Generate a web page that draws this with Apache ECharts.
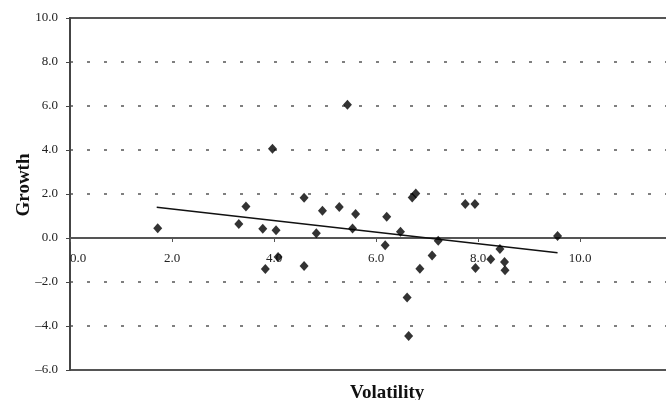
<!DOCTYPE html>
<html>
<head>
<meta charset="utf-8">
<script src="https://cdn.jsdelivr.net/npm/echarts@6/dist/echarts.min.js"></script>
<style>html,body{margin:0;padding:0;background:#fff}#c{width:666px;height:400px}</style>
</head>
<body>
<div id="c"></div>
<script>
// Data
const volatility = [1.72, 3.31, 3.45, 3.78, 3.83, 3.97, 4.04, 4.08, 4.59, 4.59, 4.83, 4.95, 5.28, 5.44, 5.54, 5.60, 6.18, 6.21, 6.48, 6.61, 6.64, 6.71, 6.78, 6.86, 7.10, 7.22, 7.75, 7.94, 7.95, 8.25, 8.43, 8.52, 8.53, 9.56];
const growth = [0.44, 0.64, 1.43, 0.42, -1.41, 4.06, 0.35, -0.86, 1.83, -1.27, 0.22, 1.24, 1.41, 6.06, 0.43, 1.09, -0.33, 0.97, 0.28, -2.71, -4.45, 1.84, 2.02, -1.40, -0.79, -0.12, 1.55, 1.55, -1.36, -0.97, -0.50, -1.09, -1.47, 0.09];
const trendX = [1.70, 9.56];
const trendY = [1.40, -0.67];
const xTicks = [0, 2, 4, 6, 8, 10, 12];
const yTicks = [-6, -4, -2, 0, 2, 4, 6, 8, 10];

const font = '"Liberation Serif", "Times New Roman", serif';
const fmt = v => (v < 0 ? '\u2013' + Math.abs(v).toFixed(1) : v.toFixed(1));

const gridTop = 18, gridHeight = 352;
const yMin = yTicks[0], yMax = yTicks[yTicks.length - 1];
// move the x axis up to the zero line of the y scale
const zeroOffset = -gridHeight * (0 - yMin) / (yMax - yMin);

const chart = echarts.init(document.getElementById('c'), null, {renderer: 'canvas'});
chart.setOption({
  animation: false,
  backgroundColor: '#fff',
  title: {
    text: 'Volatility',
    left: 345, top: 379,
    textStyle: {fontFamily: font, fontWeight: 'bold', fontSize: 19, color: '#111'}
  },
  grid: {left: 70, top: gridTop, width: 612, height: gridHeight, show: true, borderColor: '#555', borderWidth: 2, containLabel: false, outerBoundsMode: 'none'},
  xAxis: {
    type: 'value', min: xTicks[0], max: xTicks[xTicks.length - 1], interval: 2,
    position: 'bottom', offset: zeroOffset,
    axisLine: {onZero: false, lineStyle: {color: '#555', width: 2}},
    axisTick: {show: true, inside: false, length: 4, lineStyle: {color: '#555', width: 1}},
    axisLabel: {formatter: fmt, fontFamily: font, fontSize: 13, color: '#222', margin: 14, alignMinLabel: 'left', showMaxLabel: true, hideOverlap: false},
    splitLine: {show: false}
  },
  yAxis: {
    type: 'value', min: yMin, max: yMax, interval: 2,
    name: 'Growth', nameLocation: 'middle', nameGap: 36, nameMoveOverlap: false,
    nameTextStyle: {fontFamily: font, fontWeight: 'bold', fontSize: 19, color: '#111', padding: [0, 0, 0, 18]},
    axisLine: {show: true, onZero: false, lineStyle: {color: '#444', width: 2}},
    axisTick: {show: true, inside: false, length: 4, lineStyle: {color: '#444', width: 1}},
    axisLabel: {formatter: fmt, fontFamily: font, fontSize: 13, color: '#222', margin: 12},
    splitLine: {show: true, lineStyle: {color: '#555', width: 1.5, type: [3, 14]}}
  },
  series: [
    {
      type: 'scatter',
      data: volatility.map((v, i) => [v, growth[i]]),
      symbol: 'diamond', symbolSize: [9, 10],
      itemStyle: {color: '#000'}, z: 3
    },
    {
      type: 'line',
      data: trendX.map((v, i) => [v, trendY[i]]),
      symbol: 'none', lineStyle: {color: '#111', width: 1.5}, z: 2
    }
  ]
});
</script>
</body>
</html>
